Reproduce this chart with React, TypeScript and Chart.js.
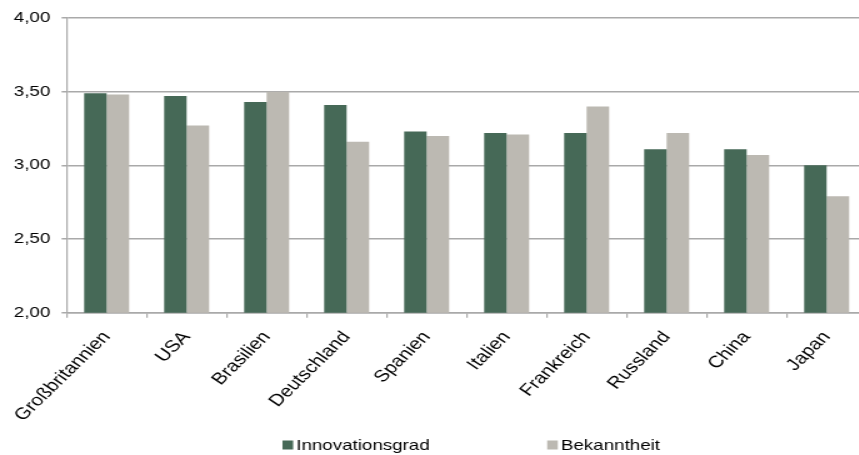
import React, { useEffect, useRef } from "react";
import { Chart, registerables } from "chart.js";

Chart.register(...registerables);

const countries = [
  "Großbritannien",
  "USA",
  "Brasilien",
  "Deutschland",
  "Spanien",
  "Italien",
  "Frankreich",
  "Russland",
  "China",
  "Japan",
];
const innovationsgrad = [3.49, 3.47, 3.43, 3.41, 3.23, 3.22, 3.22, 3.11, 3.11, 3.0];
const bekanntheit = [3.48, 3.27, 3.5, 3.16, 3.2, 3.21, 3.4, 3.22, 3.07, 2.79];
const seriesNames = ["Innovationsgrad", "Bekanntheit"];
const seriesColors = ["#466957", "#bcb9b2"];
const yMin = 2;
const yMax = 4;
const yStep = 0.5;

const FONT = "'Liberation Sans', Arial, sans-serif";
const STRETCH = 1.25;
// canvas angle that reads as roughly 44° once the canvas is widened by STRETCH
const LABEL_ANGLE = (Math.atan(STRETCH * Math.tan((44 * Math.PI) / 180)) * 180) / Math.PI;
const CANVAS_W = 754;
const CANVAS_H = 455;
const GRID = "#a9a9a9";

// Legend drawn below the axis labels: square swatch, tight text, wide gap between entries
const bottomLegend = {
  id: "bottomLegend",
  afterDraw(chart: any) {
    const { ctx } = chart;
    const boxW = 8.5;
    const boxH = 9;
    const textGap = 2.5;
    const itemGap = 94;
    ctx.save();
    ctx.font = `15px ${FONT}`;
    ctx.textBaseline = "middle";
    ctx.textAlign = "left";
    const items = chart.data.datasets.map((ds: any) => ({
      text: ds.label as string,
      color: ds.backgroundColor as string,
      w: ctx.measureText(ds.label).width,
    }));
    const total =
      items.reduce((s: number, it: any) => s + boxW + textGap + it.w, 0) +
      itemGap * (items.length - 1);
    let x = chart.width / 2 - total / 2;
    const y = chart.height - 10;
    items.forEach((it: any) => {
      ctx.fillStyle = it.color;
      ctx.fillRect(x, y - boxH / 2, boxW, boxH);
      x += boxW + textGap;
      ctx.fillStyle = "#000";
      ctx.fillText(it.text, x, y + 0.5);
      x += it.w + itemGap;
    });
    ctx.restore();
  },
};

export default function App() {
  const canvasRef = useRef<HTMLCanvasElement | null>(null);

  useEffect(() => {
    if (!canvasRef.current) return;
    const chart = new Chart(canvasRef.current, {
      type: "bar",
      data: {
        labels: countries,
        datasets: [
          {
            label: seriesNames[0],
            data: innovationsgrad,
            backgroundColor: seriesColors[0],
            borderWidth: 0,
          },
          {
            label: seriesNames[1],
            data: bekanntheit,
            backgroundColor: seriesColors[1],
            borderWidth: 0,
          },
        ],
      },
      options: {
        responsive: false,
        animation: false,
        devicePixelRatio: 1,
        layout: { padding: { top: 16.7, right: 60.7, bottom: 0, left: 0 } },
        datasets: {
          bar: { categoryPercentage: 0.5625, barPercentage: 1 },
        },
        plugins: {
          legend: { display: false },
          tooltip: { enabled: false },
          title: { display: false },
        },
        scales: {
          x: {
            grid: {
              drawOnChartArea: false,
              drawTicks: true,
              tickLength: 5,
              color: GRID,
              lineWidth: 1.2,
            },
            border: { display: true, color: GRID, width: 1.5 },
            ticks: {
              maxRotation: LABEL_ANGLE,
              minRotation: LABEL_ANGLE,
              autoSkip: false,
              padding: 10,
              color: "#000",
              font: { family: FONT, size: 16.5 },
            },
            afterFit(scale: any) {
              scale.height = 142.3;
            },
          },
          y: {
            min: yMin,
            max: yMax,
            ticks: {
              stepSize: yStep,
              padding: 9,
              color: "#000",
              font: { family: FONT, size: 15 },
              callback: (v: any) => Number(v).toFixed(2).replace(".", ","),
            },
            grid: {
              color: GRID,
              lineWidth: 1.5,
              tickLength: 4,
            },
            border: { display: true, color: GRID, width: 1.2 },
            afterFit(scale: any) {
              scale.width = 53.3;
            },
          },
        },
      },
      plugins: [bottomLegend],
    });
    return () => chart.destroy();
  }, []);

  return (
    <div
      style={{
        position: "fixed",
        inset: 0,
        overflow: "hidden",
        background: "#fff",
      }}
    >
      <div
        style={{
          position: "absolute",
          left: 0,
          top: 0,
          width: CANVAS_W,
          height: CANVAS_H,
          transform: `scaleX(${STRETCH})`,
          transformOrigin: "0 0",
        }}
      >
        <canvas ref={canvasRef} width={CANVAS_W} height={CANVAS_H} />
      </div>
    </div>
  );
}
